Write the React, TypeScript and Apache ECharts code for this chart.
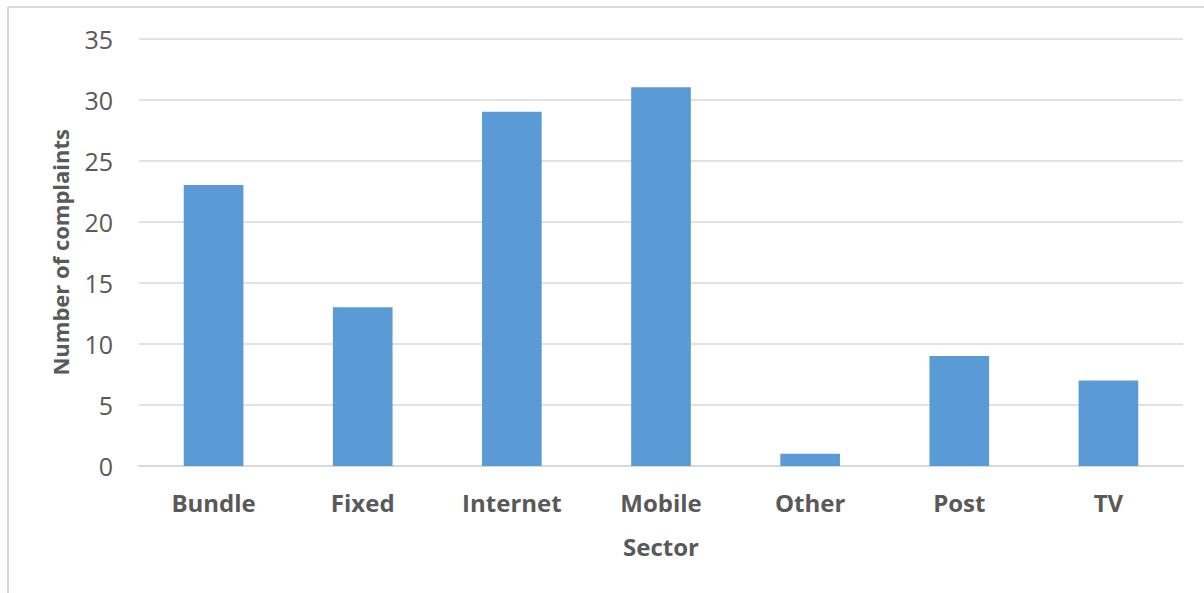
import React, { useEffect, useRef } from "react";
import * as echarts from "echarts";

const categories = ["Bundle", "Fixed", "Internet", "Mobile", "Other", "Post", "TV"];
const complaints = [23, 13, 29, 31, 1, 9, 7];
const yTicks = { min: 0, max: 35, interval: 5 };

export default function App() {
  const ref = useRef<HTMLDivElement>(null);
  useEffect(() => {
    if (!ref.current) return;
    const chart = echarts.init(ref.current, undefined, { renderer: "svg" });
    chart.setOption({
      animation: false,
      backgroundColor: "#ffffff",
      graphic: [
        { type: "line", shape: { x1: 8, y1: 7, x2: 1204, y2: 7 }, style: { stroke: "#d9d9d9", lineWidth: 2 } },
        { type: "line", shape: { x1: 8, y1: 7, x2: 8, y2: 593 }, style: { stroke: "#d9d9d9", lineWidth: 2 } },
      ],
      grid: { left: 139, right: 21, top: 38.5, bottom: 127, containLabel: false },
      xAxis: {
        type: "category",
        data: categories,
        name: "Sector",
        nameLocation: "middle",
        nameGap: 68,
        nameTextStyle: { fontFamily: "Open Sans", fontWeight: "bold", fontSize: 24, color: "#595959" },
        axisLine: { show: true, lineStyle: { color: "#d9d9d9", width: 2 } },
        axisTick: { show: false },
        axisLabel: { fontFamily: "Open Sans", fontWeight: "bold", fontSize: 24, color: "#595959", margin: 24 },
      },
      yAxis: {
        type: "value",
        min: yTicks.min,
        max: yTicks.max,
        interval: yTicks.interval,
        name: "Number of complaints",
        nameLocation: "middle",
        nameGap: 68,
        nameRotate: 90,
        nameTextStyle: { fontFamily: "Open Sans", fontWeight: "bold", fontSize: 22, color: "#595959" },
        axisLine: { show: false },
        axisTick: { show: false },
        splitLine: { lineStyle: { color: "#d9d9d9", width: 1.5 } },
        axisLabel: { fontFamily: "Open Sans", fontSize: 25, color: "#595959", margin: 26 },
      },
      series: [
        {
          type: "bar",
          data: complaints,
          barWidth: "40%",
          itemStyle: { color: "#5b9bd5" },
        },
      ],
    });
    return () => chart.dispose();
  }, []);
  return <div ref={ref} style={{ position: "fixed", left: 0, top: 0, width: 1204, height: 593 }} />;
}
